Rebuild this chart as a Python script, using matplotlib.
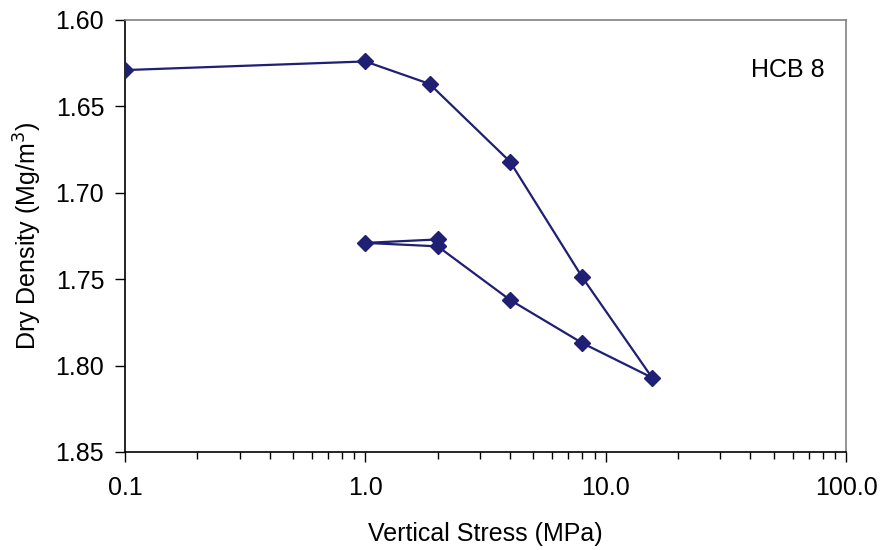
import matplotlib
matplotlib.use("Agg")
import matplotlib.pyplot as plt
from matplotlib.ticker import FixedLocator, LogLocator, FuncFormatter, NullFormatter

plt.rcParams['font.family'] = ['Liberation Sans', 'DejaVu Sans']

# HCB 8 loading / unloading / reloading path
stress = [0.1, 1.0, 1.85, 4.0, 8.0, 15.6, 8.0, 4.0, 2.0, 1.0, 2.0]
density = [1.629, 1.624, 1.637, 1.682, 1.749, 1.807, 1.787, 1.762, 1.731, 1.729, 1.727]

y_ticks = [1.60, 1.65, 1.70, 1.75, 1.80, 1.85]
x_ticks = [0.1, 1.0, 10.0, 100.0]

navy = '#1f1f73'

fig = plt.figure(figsize=(8.81, 5.5), dpi=100)
ax = fig.add_axes([0.1419, 0.1782, 0.8184, 0.7855])

ax.plot(stress, density, color=navy, lw=1.6, marker='D', ms=8,
        mfc=navy, mec=navy, zorder=3)

ax.set_xscale('log')
ax.set_xlim(0.1, 100)
ax.set_ylim(1.85, 1.60)

ax.xaxis.set_major_locator(FixedLocator(x_ticks))
ax.xaxis.set_major_formatter(FuncFormatter(lambda v, p: '%.1f' % v))
ax.xaxis.set_minor_locator(LogLocator(base=10, subs=range(2, 10)))
ax.xaxis.set_minor_formatter(NullFormatter())
ax.yaxis.set_major_locator(FixedLocator(y_ticks))
ax.yaxis.set_major_formatter(FuncFormatter(lambda v, p: '%.2f' % v))

ax.tick_params(axis='both', which='major', direction='out', length=7,
               width=1, labelsize=18, color='black')
ax.tick_params(axis='x', which='major', pad=10)
ax.tick_params(axis='y', which='major', pad=8)
ax.tick_params(axis='x', which='minor', direction='out', length=5, width=1)

for side in ('left', 'bottom'):
    ax.spines[side].set_color('black')
    ax.spines[side].set_linewidth(1.2)
for side in ('top', 'right'):
    ax.spines[side].set_color('#808080')
    ax.spines[side].set_linewidth(1.2)

ax.set_xlabel('Vertical Stress (MPa)', fontsize=18, labelpad=16)
ax.set_ylabel('Dry Density (Mg/m$^3$)', fontsize=18, labelpad=8)

ax.text(0.97, 0.885, 'HCB 8', transform=ax.transAxes, ha='right',
        va='center', fontsize=18)

fig.savefig('out.png', dpi=100)
